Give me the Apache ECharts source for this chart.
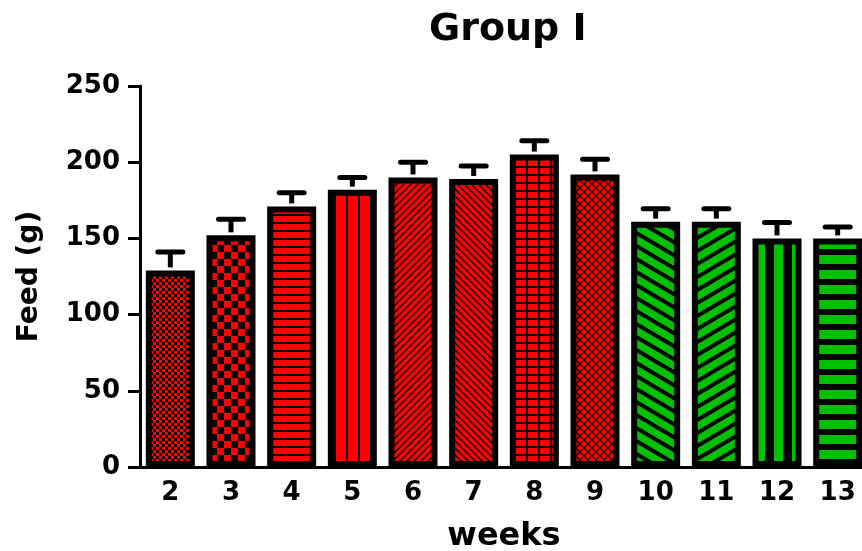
<!DOCTYPE html>
<html>
<head>
<meta charset="utf-8">
<script src="https://cdn.jsdelivr.net/npm/echarts@6/dist/echarts.min.js"></script>
<style>
  html, body { margin: 0; padding: 0; background: #fff; }
  #chart { width: 862px; height: 551px; }
</style>
</head>
<body>
<div id="chart"></div>
<script>
// data
const weeks = ["2", "3", "4", "5", "6", "7", "8", "9", "10", "11", "12", "13"];
const feedMean = [129, 152, 171, 182, 190, 189, 205, 192, 161, 161, 150, 150];
const feedErr = [12, 10.5, 9, 8, 10, 8.5, 9, 10, 8.5, 8.5, 10.5, 7.5];
const yTicks = [0, 50, 100, 150, 200, 250];

const RED = "#ff0000";
const GREEN = "#00c000";
const FONT = "DejaVu Sans";

function makePattern(w, h, bg, draw) {
  const c = document.createElement("canvas");
  c.width = w;
  c.height = h;
  const ctx = c.getContext("2d");
  ctx.fillStyle = bg;
  ctx.fillRect(0, 0, w, h);
  ctx.fillStyle = "#000";
  ctx.strokeStyle = "#000";
  draw(ctx, w, h);
  return { image: c, repeat: "repeat" };
}

// diagonal lines that tile: dir 1 = "\" , -1 = "/"
function diag(ctx, w, h, dir, lw) {
  ctx.lineWidth = lw;
  for (let dx = -w; dx <= w; dx += w) {
    for (let dy = -h; dy <= h; dy += h) {
      ctx.beginPath();
      if (dir > 0) {
        ctx.moveTo(dx, dy);
        ctx.lineTo(dx + w, dy + h);
      } else {
        ctx.moveTo(dx, dy + h);
        ctx.lineTo(dx + w, dy);
      }
      ctx.stroke();
    }
  }
}

const patterns = [
  makePattern(6, 6, RED, (ctx) => { ctx.fillRect(0, 0, 3, 3); ctx.fillRect(3, 3, 3, 3); }),
  makePattern(14, 14, RED, (ctx) => { ctx.fillRect(0, 0, 7, 7); ctx.fillRect(7, 7, 7, 7); }),
  makePattern(8, 8, RED, (ctx) => { ctx.fillRect(0, 6, 8, 2); }),
  makePattern(12, 12, RED, (ctx) => { ctx.fillRect(10, 0, 2, 12); }),
  makePattern(7, 7, RED, (ctx, w, h) => diag(ctx, w, h, -1, 1.3)),
  makePattern(7, 7, RED, (ctx, w, h) => diag(ctx, w, h, 1, 1.3)),
  makePattern(12, 8, RED, (ctx) => { ctx.fillRect(10, 0, 2, 8); ctx.fillRect(0, 6, 12, 2); }),
  makePattern(8, 8, RED, (ctx, w, h) => { diag(ctx, w, h, 1, 1.2); diag(ctx, w, h, -1, 1.2); }),
  makePattern(22, 13, GREEN, (ctx, w, h) => diag(ctx, w, h, 1, 4)),
  makePattern(22, 13, GREEN, (ctx, w, h) => diag(ctx, w, h, -1, 4)),
  makePattern(18, 4, GREEN, (ctx) => { ctx.fillRect(9, 0, 9, 4); }),
  makePattern(4, 15, GREEN, (ctx) => { ctx.fillRect(0, 9, 4, 6); })
];

const chart = echarts.init(document.getElementById("chart"));

const option = {
  animation: false,
  title: {
    text: "Group I",
    left: 424,
    top: 6,
    textStyle: { fontFamily: FONT, fontWeight: "bold", fontSize: 38, color: "#000" }
  },
  grid: { left: 140, right: -6, top: 86, bottom: 84, containLabel: false, outerBoundsMode: "none" },
  xAxis: {
    type: "category",
    data: weeks,
    name: "weeks",
    nameLocation: "middle",
    nameGap: 54,
    nameTextStyle: { fontFamily: FONT, fontWeight: "bold", fontSize: 32, color: "#000" },
    axisLine: { lineStyle: { color: "#000", width: 3 } },
    axisTick: { alignWithLabel: true, length: 9, lineStyle: { color: "#000", width: 3 } },
    axisLabel: { fontFamily: FONT, fontWeight: "bold", fontSize: 26, color: "#000", margin: 13 },
    splitLine: { show: false }
  },
  yAxis: {
    type: "value",
    min: yTicks[0],
    max: yTicks[yTicks.length - 1],
    interval: 50,
    name: "Feed (g)",
    nameLocation: "middle",
    nameGap: 96,
    nameTextStyle: { fontFamily: FONT, fontWeight: "bold", fontSize: 28, color: "#000" },
    axisLine: { show: true, lineStyle: { color: "#000", width: 3 } },
    axisTick: { show: true, length: 12, lineStyle: { color: "#000", width: 3 } },
    axisLabel: { fontFamily: FONT, fontWeight: "bold", fontSize: 26, color: "#000", margin: 20 },
    splitLine: { show: false }
  },
  series: [
    {
      type: "bar",
      barWidth: 49,
      data: feedMean.map((v, i) => ({
        value: v,
        itemStyle: { color: patterns[i], borderColor: "#000", borderWidth: 6 }
      })),
      z: 2
    },
    {
      type: "custom",
      z: 3,
      data: feedMean.map((v, i) => [i, v, feedErr[i]]),
      encode: { x: 0, y: 1 },
      renderItem: function (params, api) {
        const idx = api.value(0);
        const mean = api.value(1);
        const err = api.value(2);
        const top = api.coord([idx, mean]);
        const cap = api.coord([idx, mean + err]);
        return {
          type: "group",
          children: [
            {
              type: "line",
              shape: { x1: top[0], y1: top[1] - 3, x2: cap[0], y2: cap[1] },
              style: { stroke: "#000", lineWidth: 5 }
            },
            {
              type: "line",
              shape: { x1: cap[0] - 12.5, y1: cap[1], x2: cap[0] + 12.5, y2: cap[1] },
              style: { stroke: "#000", lineWidth: 5, lineCap: "round" }
            }
          ]
        };
      }
    }
  ]
};

chart.setOption(option);
</script>
</body>
</html>
